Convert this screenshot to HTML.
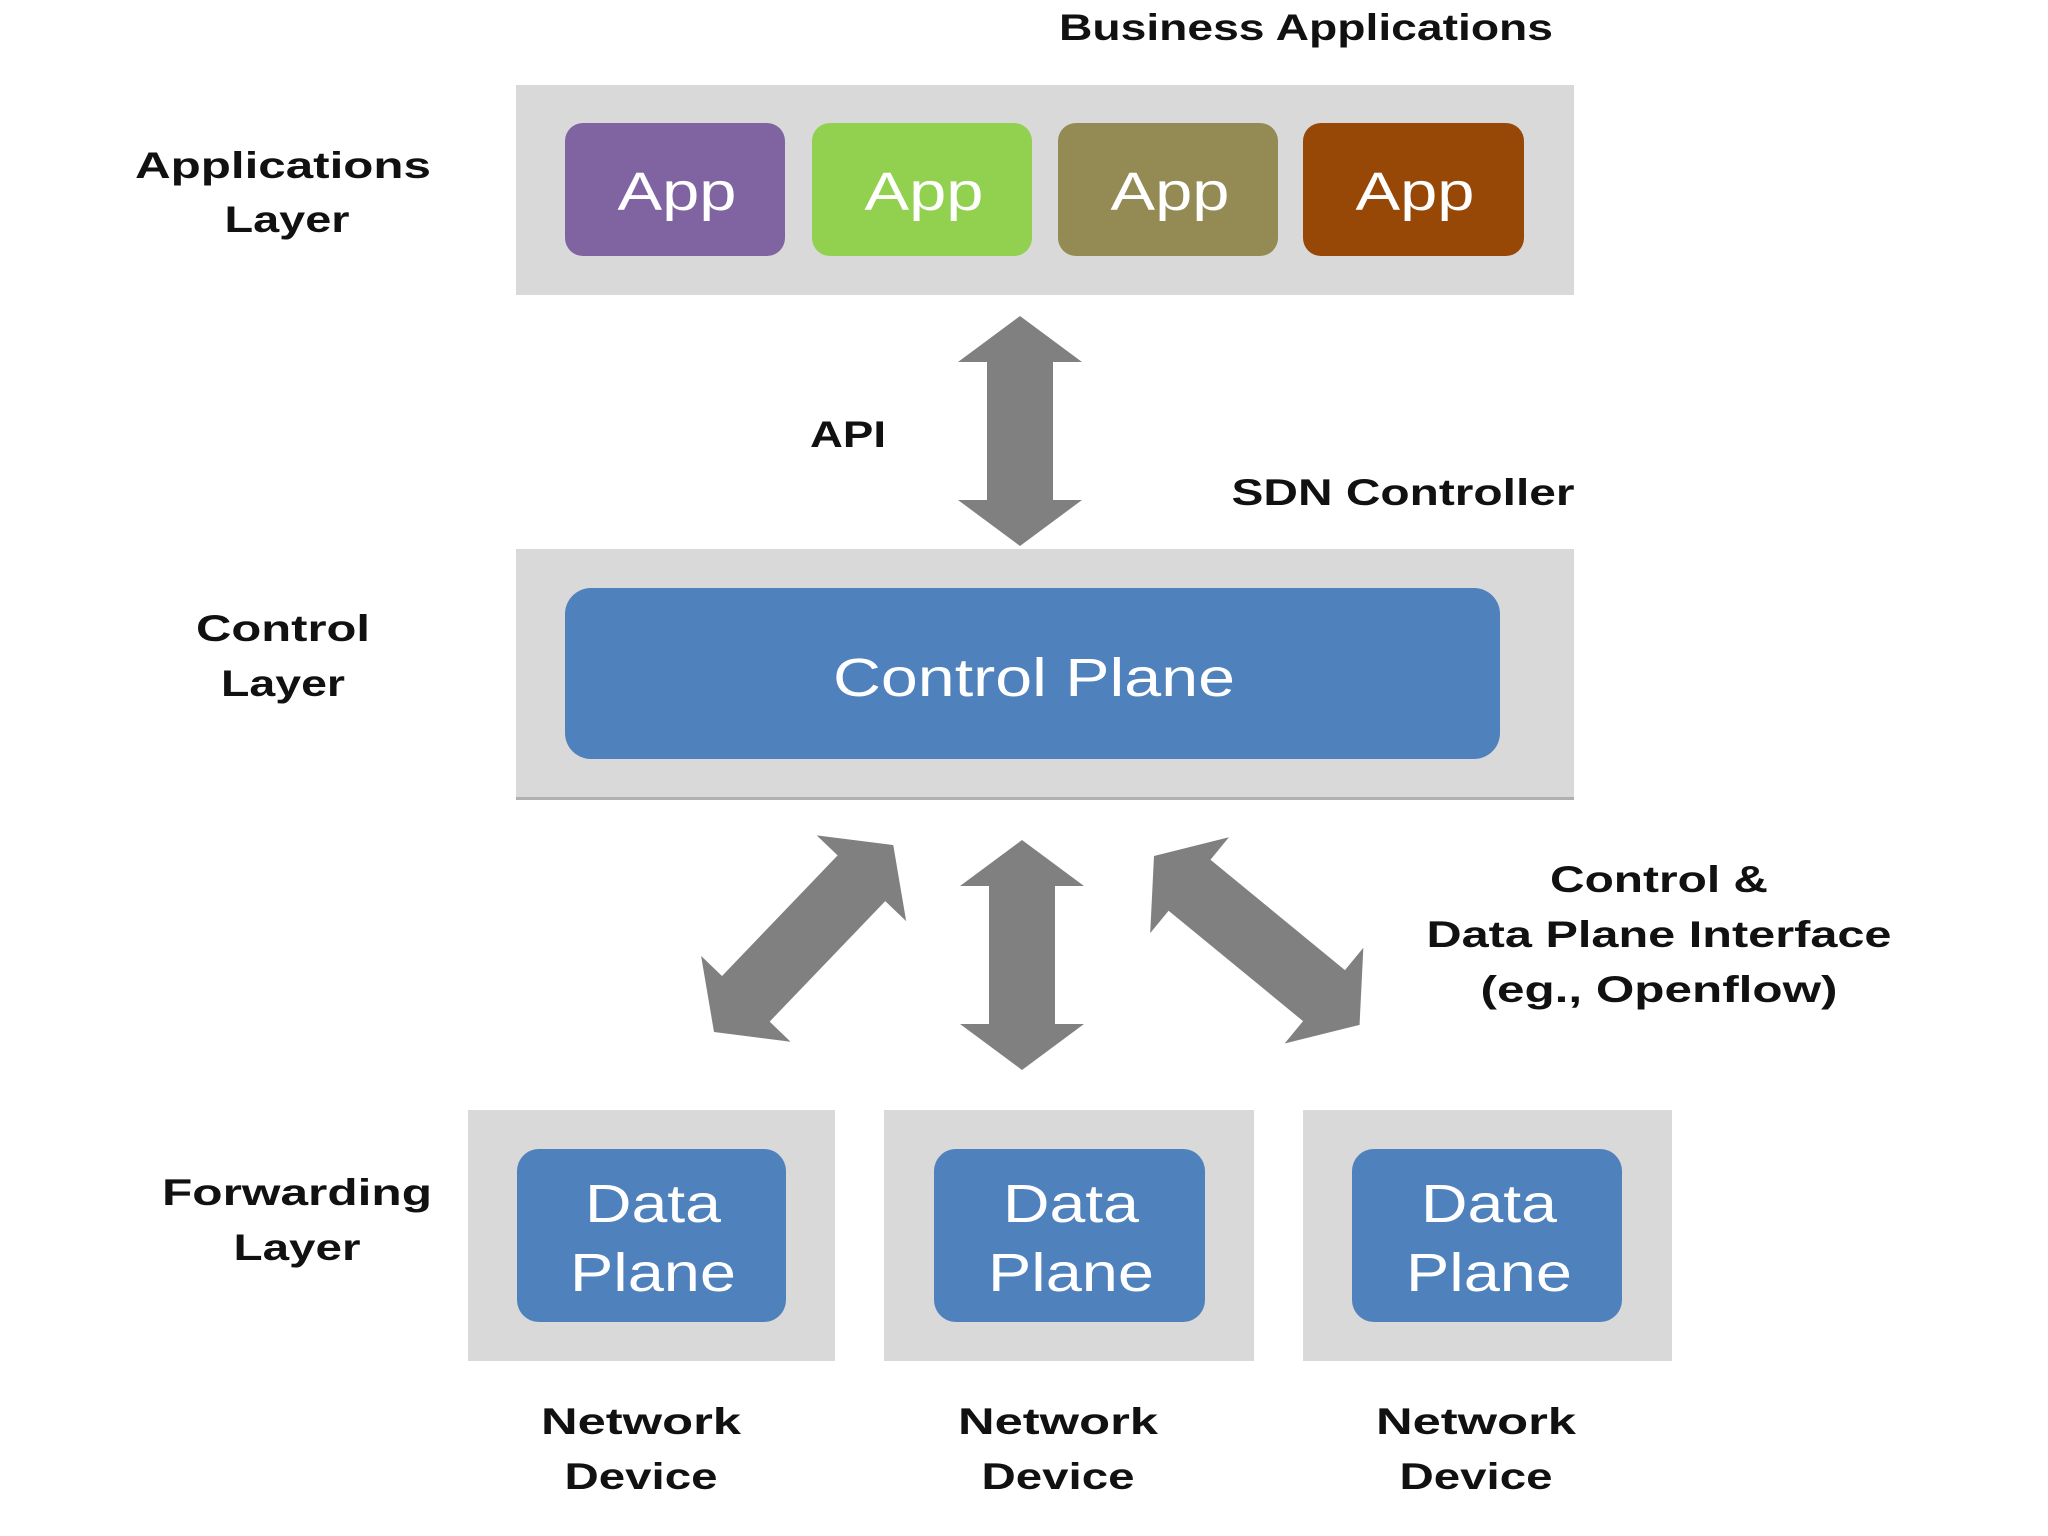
<!DOCTYPE html>
<html><head><meta charset="utf-8"><style>
html,body{margin:0;padding:0;background:#fff;}
svg{display:block}
.lbl{font-family:"Liberation Sans",sans-serif;font-weight:bold;font-size:37px;fill:#111;text-anchor:middle}
.big{font-family:"Liberation Sans",sans-serif;font-size:54px;fill:#fff;text-anchor:middle}
</style></head><body>
<svg width="2048" height="1536" viewBox="0 0 2048 1536" xmlns="http://www.w3.org/2000/svg">
<defs>
<polygon id="a230" points="0,0 46,-62 46,-33 184,-33 184,-62 230,0 184,62 184,33 46,33 46,62" fill="#808080"/>
<polygon id="a259" points="0,0 46,-62 46,-33 213,-33 213,-62 259,0 213,62 213,33 46,33 46,62" fill="#808080"/>
<polygon id="a266" points="0,0 46,-62 46,-33 220,-33 220,-62 266,0 220,62 220,33 46,33 46,62" fill="#808080"/>
</defs>
<text class="lbl" x="1306" y="40" textLength="494" lengthAdjust="spacingAndGlyphs">Business Applications</text>
<rect x="516" y="85" width="1058" height="210" fill="#d9d9d9"/>
<rect x="565" y="123" width="220" height="133" rx="18" fill="#8064a2"/>
<rect x="812" y="123" width="220" height="133" rx="18" fill="#92d050"/>
<rect x="1058" y="123" width="220" height="133" rx="18" fill="#948a54"/>
<rect x="1303" y="123" width="221" height="133" rx="18" fill="#974806"/>
<text class="big" x="677" y="210" textLength="119" lengthAdjust="spacingAndGlyphs">App</text>
<text class="big" x="924" y="210" textLength="119" lengthAdjust="spacingAndGlyphs">App</text>
<text class="big" x="1170" y="210" textLength="119" lengthAdjust="spacingAndGlyphs">App</text>
<text class="big" x="1415" y="210" textLength="119" lengthAdjust="spacingAndGlyphs">App</text>
<text class="lbl" x="283" y="178" textLength="296" lengthAdjust="spacingAndGlyphs">Applications</text>
<text class="lbl" x="287" y="232" textLength="125" lengthAdjust="spacingAndGlyphs">Layer</text>

<use href="#a230" transform="translate(1020,316) rotate(90)"/>
<text class="lbl" x="848" y="447" textLength="76" lengthAdjust="spacingAndGlyphs">API</text>
<text class="lbl" x="1403" y="505" textLength="343" lengthAdjust="spacingAndGlyphs">SDN Controller</text>

<rect x="516" y="549" width="1058" height="250" fill="#d9d9d9"/>
<rect x="516" y="797" width="1058" height="3" fill="#b0b0b0"/>
<rect x="565" y="588" width="935" height="171" rx="26" fill="#4f81bd"/>
<text class="big" x="1034" y="696" textLength="402" lengthAdjust="spacingAndGlyphs">Control Plane</text>
<text class="lbl" x="283" y="641" textLength="174" lengthAdjust="spacingAndGlyphs">Control</text>
<text class="lbl" x="283" y="696" textLength="124" lengthAdjust="spacingAndGlyphs">Layer</text>

<use href="#a230" transform="translate(1022,840) rotate(90)"/>
<use href="#a259" transform="translate(714,1032) rotate(-46.2)"/>
<use href="#a266" transform="translate(1154,856) rotate(39.4)"/>

<text class="lbl" x="1659" y="892" textLength="218" lengthAdjust="spacingAndGlyphs">Control &amp;</text>
<text class="lbl" x="1659" y="947" textLength="465" lengthAdjust="spacingAndGlyphs">Data Plane Interface</text>
<text class="lbl" x="1659" y="1002" textLength="357" lengthAdjust="spacingAndGlyphs">(eg., Openflow)</text>

<rect x="468" y="1110" width="367" height="251" fill="#d9d9d9"/>
<rect x="884" y="1110" width="370" height="251" fill="#d9d9d9"/>
<rect x="1303" y="1110" width="369" height="251" fill="#d9d9d9"/>
<rect x="517" y="1149" width="269" height="173" rx="22" fill="#4f81bd"/>
<rect x="934" y="1149" width="271" height="173" rx="22" fill="#4f81bd"/>
<rect x="1352" y="1149" width="270" height="173" rx="22" fill="#4f81bd"/>
<text class="big" x="653" y="1222" textLength="136" lengthAdjust="spacingAndGlyphs">Data</text><text class="big" x="653" y="1291" textLength="166" lengthAdjust="spacingAndGlyphs">Plane</text>
<text class="big" x="1071" y="1222" textLength="136" lengthAdjust="spacingAndGlyphs">Data</text><text class="big" x="1071" y="1291" textLength="166" lengthAdjust="spacingAndGlyphs">Plane</text>
<text class="big" x="1489" y="1222" textLength="136" lengthAdjust="spacingAndGlyphs">Data</text><text class="big" x="1489" y="1291" textLength="166" lengthAdjust="spacingAndGlyphs">Plane</text>
<text class="lbl" x="297" y="1205" textLength="270" lengthAdjust="spacingAndGlyphs">Forwarding</text>
<text class="lbl" x="297" y="1260" textLength="127" lengthAdjust="spacingAndGlyphs">Layer</text>

<text class="lbl" x="641" y="1434" textLength="200" lengthAdjust="spacingAndGlyphs">Network</text><text class="lbl" x="641" y="1489" textLength="153" lengthAdjust="spacingAndGlyphs">Device</text>
<text class="lbl" x="1058" y="1434" textLength="200" lengthAdjust="spacingAndGlyphs">Network</text><text class="lbl" x="1058" y="1489" textLength="153" lengthAdjust="spacingAndGlyphs">Device</text>
<text class="lbl" x="1476" y="1434" textLength="200" lengthAdjust="spacingAndGlyphs">Network</text><text class="lbl" x="1476" y="1489" textLength="153" lengthAdjust="spacingAndGlyphs">Device</text>
</svg>
</body></html>
